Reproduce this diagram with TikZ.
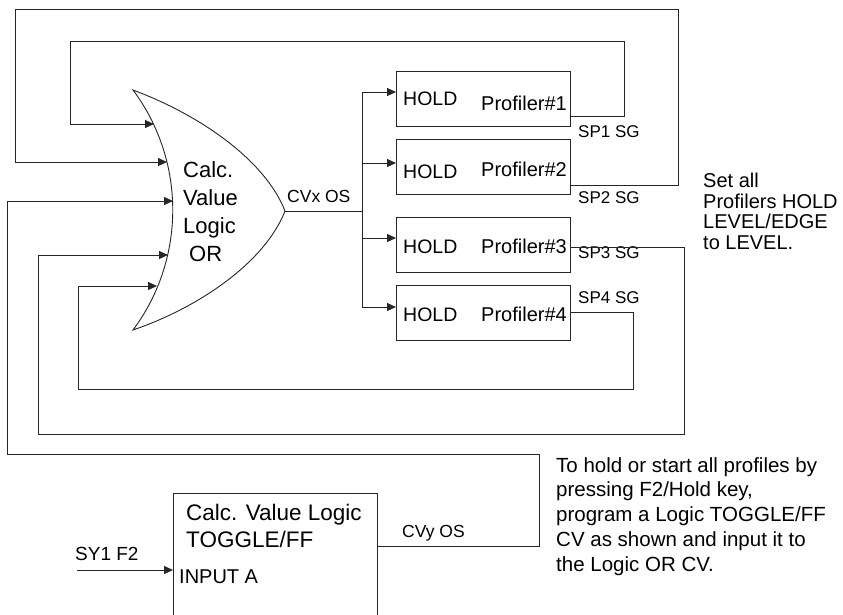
\documentclass[tikz,border=0pt]{standalone}
\usepackage{fontspec}
\setmainfont{Liberation Sans}
\usetikzlibrary{arrows.meta}
\tikzset{
	wire/.style={draw=black!85, line width=0.9pt},
	arr/.style={wire, -{Triangle[length=9pt,width=8pt]}},
	pbox/.style={draw=black!85, line width=0.9pt, minimum width=174pt, minimum height=55pt, inner sep=0pt},
	lbl/.style={inner sep=0pt, anchor=base west},
}
\begin{document}
\begin{tikzpicture}[x=1pt, y=-1pt]
	\useasboundingbox (0,0) rectangle (843,614);
	\clip (0,0) rectangle (843,614);

% 1. Cổng OR
	\draw[wire] (133,90) coordinate (gtop) .. controls (200,115) and (265,160) .. (285,211) coordinate (gout)
		.. controls (265,262) and (200,307) .. (133,330) coordinate (gbot)
		.. controls (186,259) and (186,161) .. cycle;
	\node[align=left, inner sep=0pt, anchor=north west, font=\fontsize{22}{28}\selectfont] (gtxt) at (183,161) {Calc.\\Value\\Logic\\\hspace{6pt}OR};
	\coordinate (in1) at (154,124);
	\coordinate (in2) at (167,162);
	\coordinate (in3) at (173,201);
	\coordinate (in4) at (168,255);
	\coordinate (in5) at (157,286);

% 2. Các bộ Profiler
	\foreach \i/\y in {1/71,2/139,3/217,4/285}
		\node[pbox, anchor=north west] (p\i) at (396,\y) {};
	\foreach \i/\y/\z in {1/105/110,2/178/176,3/253/253,4/321/321} {
		\node[lbl, font=\fontsize{19.5}{22}\selectfont] (h\i) at (403,\y) {HOLD};
		\node[lbl, font=\fontsize{20}{22}\selectfont] (n\i) at (481,\z) {Profiler\#\i};
	}
	\foreach \i/\y in {1/137,2/203,3/258,4/303}
		\node[lbl, font=\fontsize{17}{19}\selectfont] (sp\i) at (578,\y) {SP\i\ SG};

	\coordinate (bus) at (362,211);
	\draw[wire] (gout) -- (bus);
	\draw[wire] (bus |- 0,92) -- (bus |- 0,307);
	\foreach \i/\y in {1/92,2/163,3/238,4/307}
		\draw[arr] (bus |- 0,\y) -- (p\i.west |- 0,\y);
	\node[lbl, font=\fontsize{17.5}{20}\selectfont] (cvx) at (287,202) {CVx OS};

% 3. Vòng hồi tiếp
	\draw[arr] (p1.east |- 0,116) -| (624,41) -| (70,124) -- (in1);
	\draw[arr] (p2.east |- 0,185) -| (678,9) -| (15,162) -- (in2);
	\draw[arr] (p3.east |- 0,247) -| (684,434) -| (38,255) -- (in4);
	\draw[arr] (p4.east |- 0,312) -| (633,389) -| (78,286) -- (in5);

% 4. Khối TOGGLE/FF
	\node[pbox, anchor=north west, minimum width=204pt, minimum height=160pt] (tg) at (173,493) {};
	\node[anchor=north west, align=left, inner sep=0pt, font=\fontsize{22.5}{26.7}\selectfont] (tgt) at (186,504) {Calc. Value Logic\\TOGGLE/FF};
	\node[lbl, font=\fontsize{20}{24}\selectfont] (tga) at (179,583) {INPUT A};
	\coordinate (sy) at (77,570);
	\draw[arr] (sy) -- (tg.west |- sy);
	\node[lbl, font=\fontsize{19}{22}\selectfont] (sy1) at (75,560) {SY1 F2};
	\draw[arr] (tg.east |- 0,546) -| (539,454) -| (7,201) -- (in3);
	\node[lbl, font=\fontsize{17.5}{20}\selectfont] (cvy) at (402,537) {CVy OS};

% 5. Ghi chú
	\node[anchor=north west, align=left, inner sep=0pt, font=\fontsize{20}{20.6}\selectfont] (note1) at (703,173) {Set all\\Profilers HOLD\\LEVEL/EDGE\\to LEVEL.};
	\node[anchor=north west, align=left, inner sep=0pt, font=\fontsize{20.5}{24.8}\selectfont] (note2) at (556,457) {To hold or start all profiles by\\pressing F2/Hold key,\\program a Logic TOGGLE/FF\\CV as shown and input it to\\the Logic OR CV.};
\end{tikzpicture}
\end{document}
